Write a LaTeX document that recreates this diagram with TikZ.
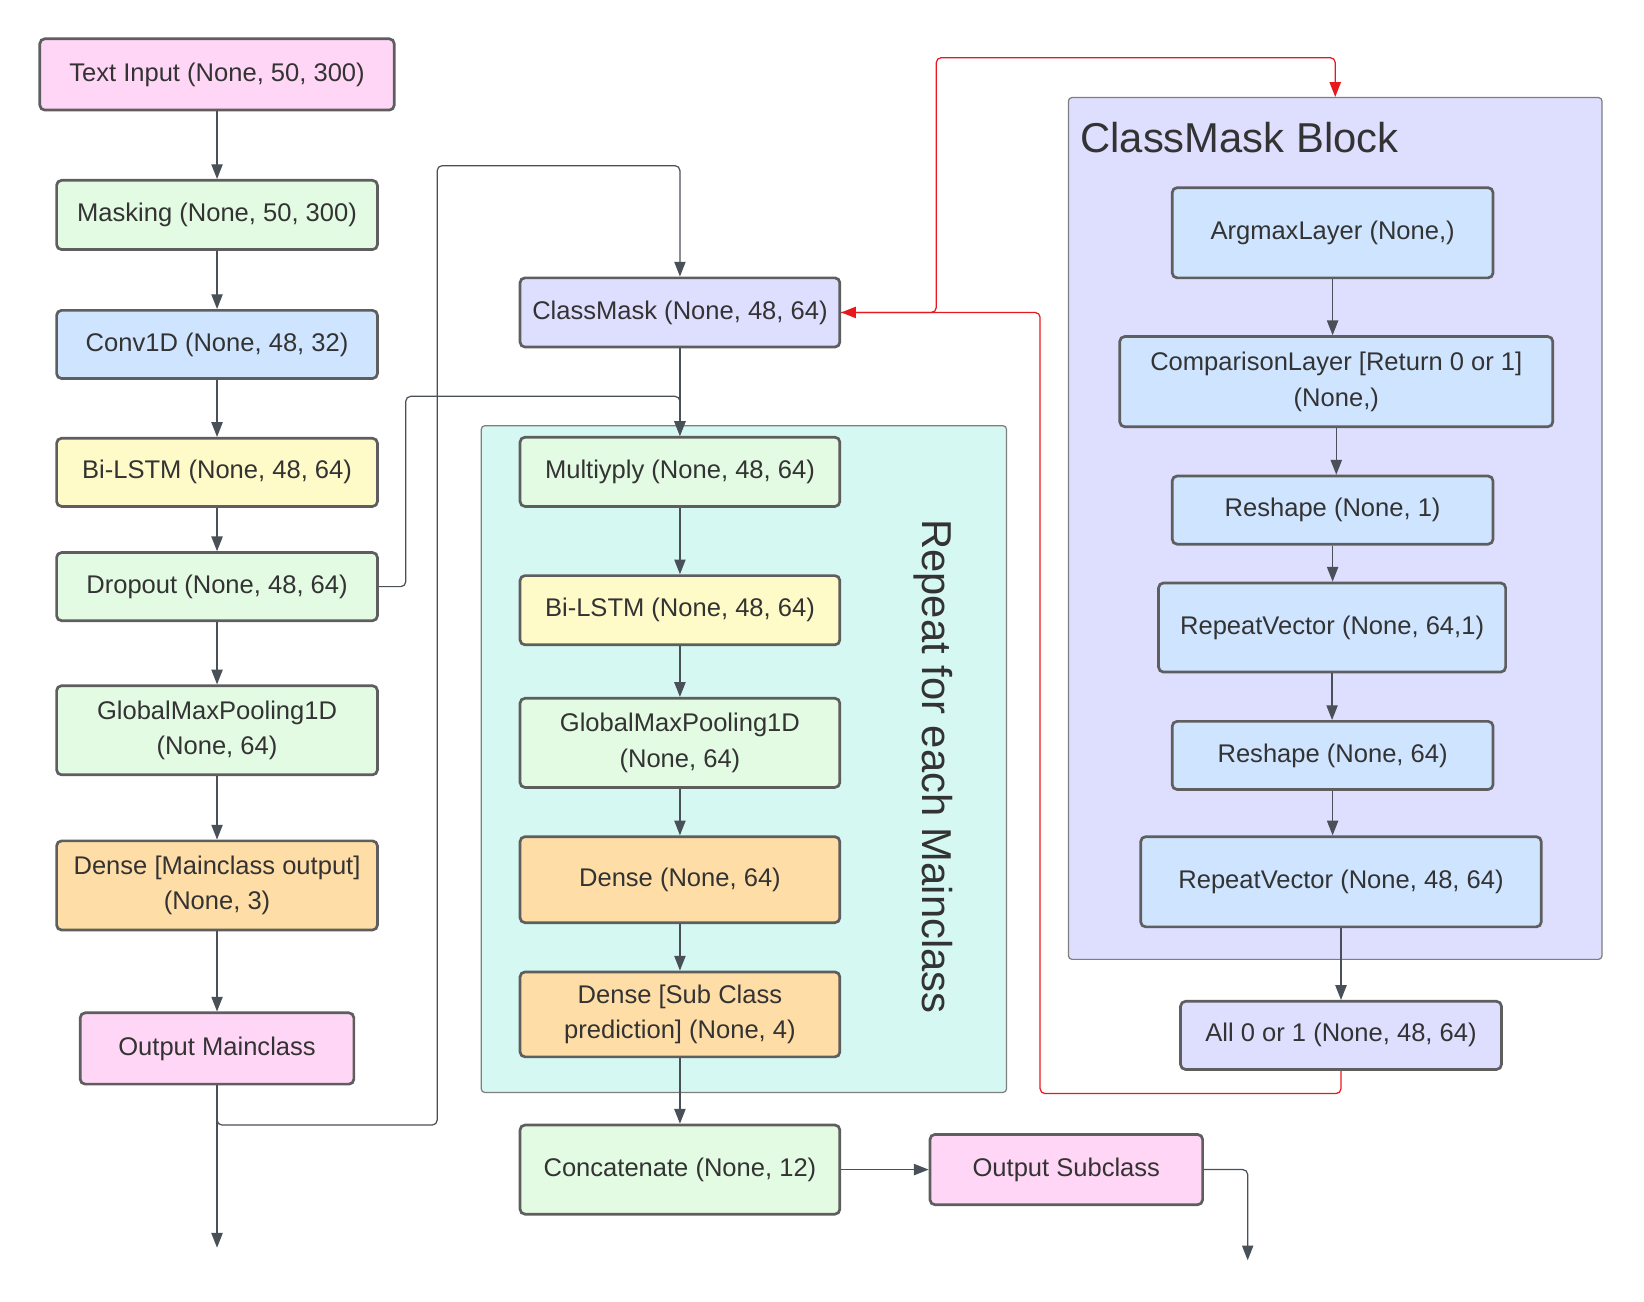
\documentclass[tikz,border=0pt]{standalone}
\usepackage{fontspec}
\setmainfont{Liberation Sans}
\usetikzlibrary{arrows.meta}

\definecolor{pinkbox}{HTML}{FFD6F5}
\definecolor{greenbox}{HTML}{E3FAE3}
\definecolor{bluebox}{HTML}{CFE4FF}
\definecolor{yellowbox}{HTML}{FFFBC9}
\definecolor{orangebox}{HTML}{FFDDA6}
\definecolor{lavbox}{HTML}{DEDEFF}
\definecolor{tealbg}{HTML}{D6F8F2}
\definecolor{edgegray}{HTML}{5E5E5E}
\definecolor{txtgray}{HTML}{333333}
\definecolor{linegray}{HTML}{4A5058}
\definecolor{linkred}{HTML}{E8191E}

\tikzset{
  layer/.style={draw=edgegray, line width=1.1pt, rounded corners=2pt, text=txtgray,
    align=center, inner sep=1pt, font=\fontsize{10.4}{14.5}\selectfont},
  sz/.style 2 args={minimum width=#1*0.015cm, minimum height=#2*0.015cm},
  group/.style={draw=edgegray!80, line width=0.5pt, rounded corners=1.5pt, inner sep=0pt},
  bigtext/.style={text=txtgray, inner sep=0pt, font=\fontsize{17}{20}\selectfont},
  link/.style={draw=linegray, line width=0.5pt, rounded corners=2pt,
    -{Triangle[length=6pt,width=4.6pt]}},
  redlink/.style={link, draw=linkred, -{Triangle[length=6pt,width=4.6pt,fill=linkred]}},
}

\begin{document}
\begin{tikzpicture}[x=0.015cm, y=-0.015cm]
\useasboundingbox (0,0) rectangle (1568,1241);

% containers
\node[group, fill=tealbg, sz={501}{636}] (rep) at (709.5,724) {};
\node[group, fill=lavbox, sz={509}{822}] (blk) at (1273.5,504) {};
\node[bigtext, anchor=west] (blktitle) at (1030,131) {ClassMask Block};
\node[bigtext, rotate=-90] (reptxt) at (890,731) {Repeat for each Mainclass};

% main branch
\node[layer, fill=pinkbox, sz={338}{68}] (tin) at (207,71) {Text Input (None, 50, 300)};
\node[layer, fill=greenbox, sz={306}{66}] (mask) at (207,205) {Masking (None, 50, 300)};
\node[layer, fill=bluebox, sz={306}{65}] (conv) at (207,328.5) {Conv1D (None, 48, 32)};
\node[layer, fill=yellowbox, sz={306}{65}] (lstma) at (207,450.5) {Bi-LSTM (None, 48, 64)};
\node[layer, fill=greenbox, sz={306}{65}] (drop) at (207,559.5) {Dropout (None, 48, 64)};
\node[layer, fill=greenbox, sz={306}{85}] (gmpa) at (207,696.5) {GlobalMaxPooling1D\\(None, 64)};
\node[layer, fill=orangebox, sz={306}{85}] (densea) at (207,844.5) {Dense [Mainclass output]\\(None, 3)};
\node[layer, fill=pinkbox, sz={261}{68}] (outa) at (207,1000) {Output Mainclass};

% sub class branch
\node[layer, fill=lavbox, sz={305}{66}] (cmask) at (648.5,298) {ClassMask (None, 48, 64)};
\node[layer, fill=greenbox, sz={305}{66}] (mult) at (648.5,450) {Multiyply (None, 48, 64)};
\node[layer, fill=yellowbox, sz={305}{66}] (lstmb) at (648.5,582) {Bi-LSTM (None, 48, 64)};
\node[layer, fill=greenbox, sz={305}{85}] (gmpb) at (648.5,708.5) {GlobalMaxPooling1D\\(None, 64)};
\node[layer, fill=orangebox, sz={305}{82}] (denseb) at (648.5,839) {Dense (None, 64)};
\node[layer, fill=orangebox, sz={305}{81}] (densec) at (648.5,967.5) {Dense [Sub Class\\prediction] (None, 4)};
\node[layer, fill=greenbox, sz={305}{85}] (concat) at (648.5,1115.5) {Concatenate (None, 12)};
\node[layer, fill=pinkbox, sz={260}{67}] (outb) at (1017,1115.5) {Output Subclass};

% classmask block
\node[layer, fill=bluebox, sz={306}{86}] (argmax) at (1271,222) {ArgmaxLayer (None,)};
\node[layer, fill=bluebox, sz={413}{86}] (comp) at (1274.5,364) {ComparisonLayer [Return 0 or 1]\\(None,)};
\node[layer, fill=bluebox, sz={306}{65}] (resha) at (1271,486.5) {Reshape (None, 1)};
\node[layer, fill=bluebox, sz={331}{85}] (repa) at (1270.5,598.5) {RepeatVector (None, 64,1)};
\node[layer, fill=bluebox, sz={306}{65}] (reshb) at (1271,720.5) {Reshape (None, 64)};
\node[layer, fill=bluebox, sz={382}{86}] (repb) at (1279,841) {RepeatVector (None, 48, 64)};
\node[layer, fill=lavbox, sz={306}{65}] (allb) at (1279,987.5) {All 0 or 1 (None, 48, 64)};

\coordinate (enda) at (207,1190);
\coordinate (endb) at (1190,1202);

% straight links
\foreach \a/\b in {tin/mask,mask/conv,conv/lstma,lstma/drop,drop/gmpa,gmpa/densea,densea/outa,
  cmask/mult,mult/lstmb,lstmb/gmpb,gmpb/denseb,denseb/densec,densec/concat,
  argmax/comp,comp/resha,resha/repa,repa/reshb,reshb/repb,repb/allb}
  \draw[link] (\a.south) -- (\a.south |- \b.north);
\draw[link] (outa.south) -- (enda);
\draw[link] (concat.east) -- (concat.east -| outb.west);
\draw[link] (outb.east) -| (endb);

% bent links
\draw[link] (outa.south) |- (417,1073) -- (417,158) -| (cmask.north);
\draw[link] (drop.east) -| (387,378) -| (mult.north);
\draw[redlink] (allb.south) |- (992,1043) |- (cmask.east);
\draw[redlink] (cmask.east) -| (893,55) -| (blk.north);
\end{tikzpicture}
\end{document}
